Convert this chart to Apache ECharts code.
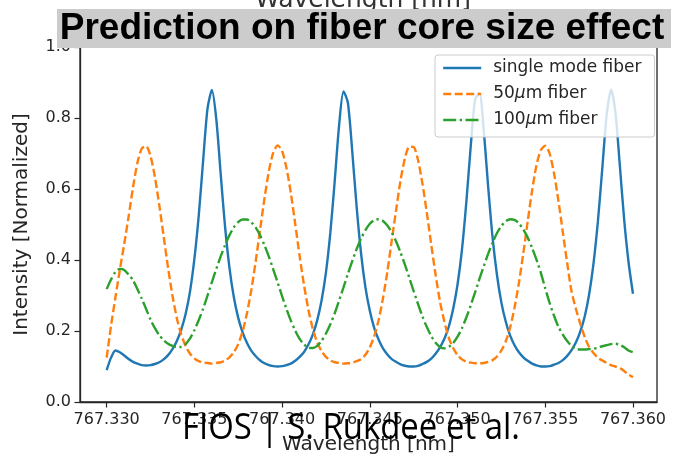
<!DOCTYPE html>
<html>
<head>
<meta charset="utf-8">
<script src="https://cdn.jsdelivr.net/npm/echarts@6/dist/echarts.min.js"></script>
<style>
  html, body { margin: 0; padding: 0; background: #ffffff; }
  #chart { width: 674px; height: 460px; }
</style>
</head>
<body>
<div id="chart"></div>
<script>
const wavelength = [
  767.33, 767.33025, 767.3305, 767.33075, 767.331, 767.33125, 767.3315, 767.33175, 767.332, 767.33225,
  767.3325, 767.33275, 767.333, 767.33325, 767.3335, 767.33375, 767.334, 767.33425, 767.3345, 767.33475,
  767.335, 767.33525, 767.3355, 767.33575, 767.336, 767.33625, 767.3365, 767.33675, 767.337, 767.33725,
  767.3375, 767.33775, 767.338, 767.33825, 767.3385, 767.33875, 767.339, 767.33925, 767.3395, 767.33975,
  767.34, 767.34025, 767.3405, 767.34075, 767.341, 767.34125, 767.3415, 767.34175, 767.342, 767.34225,
  767.3425, 767.34275, 767.343, 767.34325, 767.3435, 767.34375, 767.344, 767.34425, 767.3445, 767.34475,
  767.345, 767.34525, 767.3455, 767.34575, 767.346, 767.34625, 767.3465, 767.34675, 767.347, 767.34725,
  767.3475, 767.34775, 767.348, 767.34825, 767.3485, 767.34875, 767.349, 767.34925, 767.3495, 767.34975,
  767.35, 767.35025, 767.3505, 767.35075, 767.351, 767.35125, 767.3515, 767.35175, 767.352, 767.35225,
  767.3525, 767.35275, 767.353, 767.35325, 767.3535, 767.35375, 767.354, 767.35425, 767.3545, 767.35475,
  767.355, 767.35525, 767.3555, 767.35575, 767.356, 767.35625, 767.3565, 767.35675, 767.357, 767.35725,
  767.3575, 767.35775, 767.358, 767.35825, 767.3585, 767.35875, 767.359, 767.35925, 767.3595, 767.35975,
  767.36
];

const singleMode = [
  0.090, 0.125, 0.145, 0.140, 0.131, 0.121, 0.113, 0.108, 0.104, 0.103,
  0.104, 0.107, 0.112, 0.120, 0.132, 0.149, 0.172, 0.204, 0.248, 0.311,
  0.403, 0.526, 0.681, 0.827, 0.879, 0.796, 0.642, 0.493, 0.378, 0.295,
  0.237, 0.196, 0.166, 0.144, 0.129, 0.117, 0.109, 0.104, 0.101, 0.100,
  0.101, 0.104, 0.108, 0.116, 0.127, 0.141, 0.162, 0.190, 0.230, 0.286,
  0.365, 0.477, 0.623, 0.780, 0.875, 0.843, 0.705, 0.549, 0.419, 0.323,
  0.257, 0.209, 0.176, 0.151, 0.134, 0.121, 0.113, 0.106, 0.102, 0.100,
  0.100, 0.102, 0.107, 0.113, 0.122, 0.136, 0.154, 0.178, 0.212, 0.262,
  0.331, 0.428, 0.562, 0.719, 0.851, 0.870, 0.761, 0.604, 0.462, 0.357,
  0.280, 0.226, 0.187, 0.160, 0.140, 0.126, 0.116, 0.108, 0.103, 0.100,
  0.100, 0.101, 0.105, 0.110, 0.118, 0.130, 0.146, 0.168, 0.199, 0.241,
  0.303, 0.390, 0.508, 0.657, 0.808, 0.880, 0.816, 0.667, 0.513, 0.393,
  0.305
];

const fiber50 = [
  0.125, 0.215, 0.295, 0.372, 0.445, 0.522, 0.604, 0.673, 0.714, 0.721,
  0.693, 0.634, 0.554, 0.466, 0.378, 0.300, 0.236, 0.190, 0.158, 0.136,
  0.123, 0.115, 0.111, 0.110, 0.108, 0.110, 0.112, 0.117, 0.126, 0.140,
  0.163, 0.199, 0.251, 0.317, 0.398, 0.487, 0.575, 0.651, 0.703, 0.723,
  0.707, 0.659, 0.588, 0.501, 0.411, 0.329, 0.260, 0.206, 0.168, 0.143,
  0.127, 0.117, 0.112, 0.110, 0.108, 0.109, 0.111, 0.115, 0.121, 0.133,
  0.154, 0.185, 0.230, 0.292, 0.367, 0.455, 0.541, 0.624, 0.686, 0.719,
  0.718, 0.681, 0.615, 0.533, 0.444, 0.358, 0.283, 0.226, 0.181, 0.152,
  0.132, 0.120, 0.114, 0.111, 0.109, 0.109, 0.110, 0.113, 0.118, 0.128,
  0.145, 0.171, 0.210, 0.266, 0.336, 0.419, 0.509, 0.595, 0.667, 0.710,
  0.722, 0.700, 0.644, 0.567, 0.479, 0.391, 0.311, 0.262, 0.220, 0.183,
  0.155, 0.138, 0.125, 0.117, 0.110, 0.104, 0.100, 0.096, 0.087, 0.077,
  0.070
];

const fiber100 = [
  0.318, 0.345, 0.366, 0.375, 0.372, 0.359, 0.343, 0.318, 0.291, 0.262,
  0.232, 0.208, 0.188, 0.174, 0.164, 0.158, 0.155, 0.155, 0.163, 0.179,
  0.202, 0.231, 0.263, 0.300, 0.338, 0.375, 0.410, 0.442, 0.470, 0.492,
  0.507, 0.514, 0.514, 0.506, 0.491, 0.469, 0.441, 0.409, 0.373, 0.336,
  0.298, 0.262, 0.229, 0.201, 0.178, 0.162, 0.153, 0.152, 0.158, 0.172,
  0.193, 0.219, 0.250, 0.286, 0.323, 0.361, 0.397, 0.431, 0.460, 0.484,
  0.502, 0.512, 0.515, 0.510, 0.497, 0.478, 0.452, 0.421, 0.387, 0.350,
  0.312, 0.276, 0.241, 0.211, 0.186, 0.167, 0.155, 0.151, 0.155, 0.166,
  0.184, 0.208, 0.238, 0.272, 0.309, 0.347, 0.383, 0.418, 0.449, 0.476,
  0.496, 0.509, 0.515, 0.513, 0.503, 0.486, 0.463, 0.434, 0.401, 0.364,
  0.320, 0.279, 0.243, 0.212, 0.190, 0.172, 0.158, 0.150, 0.148, 0.148,
  0.149, 0.150, 0.153, 0.157, 0.160, 0.163, 0.164, 0.161, 0.154, 0.145,
  0.140
];

const seriesNames = ['single mode fiber', '50μm fiber', '100μm fiber'];
const xTicks = [767.330, 767.335, 767.340, 767.345, 767.350, 767.355, 767.360];
const yTicks = [0.0, 0.2, 0.4, 0.6, 0.8, 1.0];

const colors = ['#1f77b4', '#ff7f0e', '#2ca02c'];
const dashes = ['solid', [8, 3.5], [13, 3.5, 2.3, 3.5]];
const values = [singleMode, fiber50, fiber100];

const chart = echarts.init(document.getElementById('chart'), null, { renderer: 'canvas' });
const axisColor = '#262626';
const tickFont = 'DejaVu Sans';

chart.setOption({
  animation: false,
  backgroundColor: '#ffffff',
  grid: {
    left: 80, right: 17, top: 47, bottom: 52,
    show: true, borderColor: axisColor, borderWidth: 1.3, backgroundColor: 'transparent'
  },
  xAxis: {
    type: 'value',
    min: 767.32848, max: 767.36137,
    name: 'Wavelength [nm]',
    nameLocation: 'middle',
    nameGap: 33,
    nameTextStyle: { fontFamily: tickFont, fontSize: 20, color: axisColor },
    axisLine: { show: true, lineStyle: { color: axisColor, width: 1.3 } },
    axisTick: { show: true, length: 5.5, lineStyle: { color: axisColor, width: 1.2 }, customValues: xTicks },
    axisLabel: {
      customValues: xTicks,
      formatter: v => v.toFixed(3),
      fontFamily: tickFont, fontSize: 16, color: axisColor, margin: 10
    },
    splitLine: { show: false }
  },
  yAxis: {
    type: 'value',
    min: 0, max: 1,
    name: 'Intensity [Normalized]',
    nameLocation: 'middle',
    nameGap: 48,
    nameTextStyle: { fontFamily: tickFont, fontSize: 20, color: axisColor },
    axisLine: { show: true, lineStyle: { color: axisColor, width: 1.3 } },
    axisTick: { show: true, length: 5.5, lineStyle: { color: axisColor, width: 1.2 }, customValues: yTicks },
    axisLabel: {
      customValues: yTicks,
      formatter: v => v.toFixed(1),
      fontFamily: tickFont, fontSize: 16, color: axisColor, margin: 9
    },
    splitLine: { show: false }
  },
  legend: {
    orient: 'vertical',
    left: 435, top: 55,
    data: seriesNames,
    itemWidth: 38, itemHeight: 14, itemGap: 0,
    padding: [0, 13, 4, 7],
    backgroundColor: 'rgba(255,255,255,0.8)',
    borderColor: '#cccccc', borderWidth: 1, borderRadius: 3,
    lineStyle: { width: 2.4 },
    itemStyle: { opacity: 0 },
    formatter: name => name.replace('μ', '{it|μ}'),
    textStyle: {
      fontFamily: tickFont, fontSize: 17, color: axisColor, lineHeight: 26,
      padding: [0, 0, 0, 7],
      rich: { it: { fontFamily: tickFont, fontSize: 17, fontStyle: 'italic', color: axisColor, lineHeight: 26 } }
    }
  },
  series: seriesNames.map((name, k) => ({
    name: name,
    type: 'line',
    symbol: 'none',
    showSymbol: false,
    smooth: 0.25,
    color: colors[k],
    lineStyle: { color: colors[k], width: 2.4, type: dashes[k] },
    data: wavelength.map((w, i) => [w, values[k][i]])
  })),
  graphic: [
    {
      type: 'text', z: 90, x: 363, y: 0,
      style: { text: 'Wavelength [nm]', fontFamily: tickFont, fontSize: 25, fill: '#333333',
               align: 'center', verticalAlign: 'middle' }
    },
    {
      type: 'rect', z: 100,
      shape: { x: 57, y: 9, width: 614, height: 39 },
      style: { fill: '#cccccc' }
    },
    {
      type: 'text', z: 101, x: 362, y: 29,
      style: { text: 'Prediction on fiber core size effect', fontFamily: 'Liberation Sans', fontWeight: 'bold',
               fontSize: 37, fill: '#000000', align: 'center', verticalAlign: 'middle' }
    },
    {
      type: 'text', z: 102, x: 351, y: 428.5, scaleX: 0.89,
      style: { text: 'FIOS | S. Rukdee et al.', fontFamily: 'Open Sans', fontSize: 37, fill: '#000000',
               align: 'center', verticalAlign: 'middle' }
    }
  ]
});
</script>
</body>
</html>
